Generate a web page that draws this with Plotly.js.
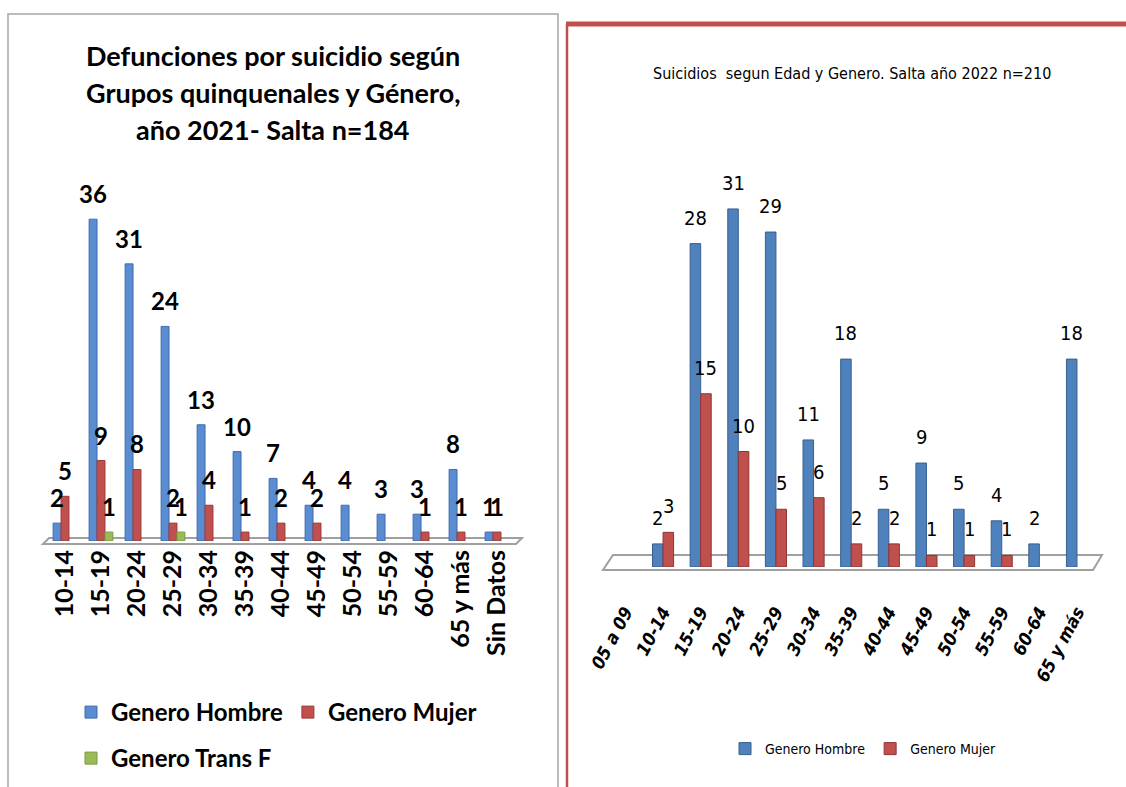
<!DOCTYPE html>
<html>
<head>
<meta charset="utf-8">
<script src="https://cdn.plot.ly/plotly-3.0.1.min.js"></script>
<style>html,body{margin:0;padding:0;background:#fff;}#chart{width:1126px;height:787px;}</style>
</head>
<body>
<div id="chart"></div>
<script>
// ---- Data: 2021 (left chart) ----
const cats2021 = ["10-14","15-19","20-24","25-29","30-34","35-39","40-44","45-49","50-54","55-59","60-64","65 y más","Sin Datos"];
const hombre2021 = [2, 36, 31, 24, 13, 10, 7, 4, 4, 3, 3, 8, 1];
const mujer2021  = [5, 9, 8, 2, 4, 1, 2, 2, null, null, 1, 1, 1];
const trans2021  = [null, 1, null, 1, null, null, null, null, null, null, null, null, null];

// ---- Data: 2022 (right chart) ----
const cats2022 = ["05 a 09","10-14","15-19","20-24","25-29","30-34","35-39","40-44","45-49","50-54","55-59","60-64","65 y más"];
const hombre2022 = [null, 2, 28, 31, 29, 11, 18, 5, 9, 5, 4, 2, 18];
const mujer2022  = [null, 3, 15, 10, 5, 6, 2, 2, 1, 1, 1, null, null];

const title2021 = ["Defunciones por suicidio según", "Grupos quinquenales y Género,", "año 2021- Salta n=184"];
const title2022 = "Suicidios  segun Edad y Genero. Salta año 2022 n=210";

// ---- Layout helpers (pixel -> paper) ----
const W = 1126, H = 787;
const px = x => x / W;
const py = y => 1 - y / H;
const P = (x, y) => px(x) + "," + py(y);

const BOLD = "Lato, 'Open Sans', sans-serif";
const NARROW = "'DejaVu Sans Condensed', 'DejaVu Sans', sans-serif";

const C_BLUE_L = "#5A8CD2", C_RED = "#C0504D", C_GREEN = "#9BBB59", C_BLUE_R = "#4F81BD";

const L = {x0: 47, x1: 515, base: 541, top: 183.4, ymax: 40};
const R = {x0: 606.6, x1: 1095.8, base: 567, top: 162.75, ymax: 35};

const leftW = 0.22, leftOff = [-0.33, -0.11, 0.11];
const rightW = 0.28, rightOff = [-0.28, 0];

const traces = [
  {type: "bar", name: "Genero Hombre", x: cats2021, y: hombre2021, xaxis: "x", yaxis: "y",
   width: leftW, offset: leftOff[0], marker: {color: C_BLUE_L, line: {color: "#3F6DAE", width: 1}}, legend: "legend"},
  {type: "bar", name: "Genero Mujer", x: cats2021, y: mujer2021, xaxis: "x", yaxis: "y",
   width: leftW, offset: leftOff[1], marker: {color: C_RED, line: {color: "#9A3A37", width: 1}}, legend: "legend"},
  {type: "bar", name: "Genero Trans F", x: cats2021, y: trans2021, xaxis: "x", yaxis: "y",
   width: leftW, offset: leftOff[2], marker: {color: C_GREEN, line: {color: "#7A9A3F", width: 1}}, legend: "legend3"},
  {type: "bar", name: "Genero Hombre", x: cats2022, y: hombre2022, xaxis: "x2", yaxis: "y2",
   width: rightW, offset: rightOff[0], marker: {color: C_BLUE_R, line: {color: "#36608F", width: 1}}, legend: "legend2"},
  {type: "bar", name: "Genero Mujer", x: cats2022, y: mujer2022, xaxis: "x2", yaxis: "y2",
   width: rightW, offset: rightOff[1], marker: {color: C_RED, line: {color: "#8E3532", width: 1}}, legend: "legend2"}
];

const annotations = [];
function addLabels(cats, vals, xref, yref, off, w, ncat, span, font, yshift) {
  const pxPerCat = span / ncat;
  vals.forEach((v, i) => {
    if (v === null || v === undefined) return;
    annotations.push({x: cats[i], y: v, xref: xref, yref: yref, text: String(v), showarrow: false,
      xanchor: "center", yanchor: "bottom", xshift: (off + w / 2) * pxPerCat, yshift: yshift, font: font});
  });
}
const fL = {family: BOLD, size: 24, color: "#000", weight: 700};
const fR = {family: NARROW, size: 20, color: "#000"};
addLabels(cats2021, hombre2021, "x", "y", leftOff[0], leftW, cats2021.length, L.x1 - L.x0, fL, 9);
addLabels(cats2021, mujer2021, "x", "y", leftOff[1], leftW, cats2021.length, L.x1 - L.x0, fL, 9);
addLabels(cats2021, trans2021, "x", "y", leftOff[2], leftW, cats2021.length, L.x1 - L.x0, fL, 9);
addLabels(cats2022, hombre2022, "x2", "y2", rightOff[0], rightW, cats2022.length, R.x1 - R.x0, fR, 12);
addLabels(cats2022, mujer2022, "x2", "y2", rightOff[1], rightW, cats2022.length, R.x1 - R.x0, fR, 12);

const titleY = [55, 92, 129];
title2021.forEach((t, i) => annotations.push({xref: "paper", yref: "paper", x: px(273), y: py(titleY[i]),
  xanchor: "center", yanchor: "middle", showarrow: false, text: t,
  font: {family: BOLD, size: 27, color: "#000", weight: 700}}));
annotations.push({xref: "paper", yref: "paper", x: px(852), y: py(74), xanchor: "center", yanchor: "middle",
  showarrow: false, text: title2022, font: {family: NARROW, size: 16, color: "#000"}});

const shapes = [
  {type: "rect", xref: "paper", yref: "paper", x0: px(8), x1: px(558), y0: py(800), y1: py(14),
   line: {color: "#A6A6A6", width: 1.5}, layer: "below"},
  {type: "line", xref: "paper", yref: "paper", x0: px(566), x1: px(1130), y0: py(24), y1: py(24),
   line: {color: "#C0504D", width: 5}},
  {type: "line", xref: "paper", yref: "paper", x0: px(567), x1: px(567), y0: py(24), y1: py(800),
   line: {color: "#C0504D", width: 2.5}},
  {type: "path", xref: "paper", yref: "paper", layer: "below",
   path: "M" + P(43, 544) + "L" + P(516, 544) + "L" + P(522, 538) + "L" + P(49, 538) + "Z",
   fillcolor: "#FFFFFF", line: {color: "#A0A0A0", width: 2}},
  {type: "path", xref: "paper", yref: "paper", layer: "below",
   path: "M" + P(603, 570) + "L" + P(1093, 570) + "L" + P(1102, 555) + "L" + P(613, 555) + "Z",
   fillcolor: "#FFFFFF", line: {color: "#A0A0A0", width: 2}}
];

const layout = {
  width: W, height: H, autosize: false,
  margin: {l: 0, r: 0, t: 0, b: 0},
  paper_bgcolor: "#fff", plot_bgcolor: "rgba(0,0,0,0)",
  barmode: "group",
  showlegend: true,
  xaxis: {domain: [px(L.x0), px(L.x1)], type: "category", range: [-0.5, 12.5], showgrid: false, zeroline: false,
    showline: false, ticks: "", tickangle: -90, ticklabelstandoff: 3,
    tickfont: {family: BOLD, size: 25, color: "#000", weight: 700}, fixedrange: true},
  yaxis: {domain: [py(L.base), py(L.top)], range: [0, L.ymax], visible: false, fixedrange: true},
  xaxis2: {domain: [px(R.x0), px(R.x1)], anchor: "y2", type: "category", range: [-0.5, 12.5], showgrid: false,
    zeroline: false, showline: false, ticks: "", tickangle: -62, ticklabelstandoff: 30,
    tickfont: {family: NARROW, size: 18, color: "#000", style: "italic", weight: 700}, fixedrange: true},
  yaxis2: {domain: [py(R.base), py(R.top)], anchor: "x2", range: [0, R.ymax], visible: false, fixedrange: true},
  legend: {orientation: "h", x: px(71), y: py(690), xanchor: "left", yanchor: "top", bgcolor: "rgba(0,0,0,0)",
    font: {family: BOLD, size: 24, color: "#000", weight: 700}, traceorder: "normal"},
  legend3: {orientation: "h", x: px(71), y: py(736), xanchor: "left", yanchor: "top", bgcolor: "rgba(0,0,0,0)",
    font: {family: BOLD, size: 24, color: "#000", weight: 700}},
  legend2: {orientation: "h", x: px(725), y: py(733), xanchor: "left", yanchor: "top", bgcolor: "rgba(0,0,0,0)",
    font: {family: NARROW, size: 14, color: "#000"}, traceorder: "normal"},
  annotations: annotations,
  shapes: shapes
};

Plotly.newPlot("chart", traces, layout, {displayModeBar: false, staticPlot: true});
</script>
</body>
</html>
